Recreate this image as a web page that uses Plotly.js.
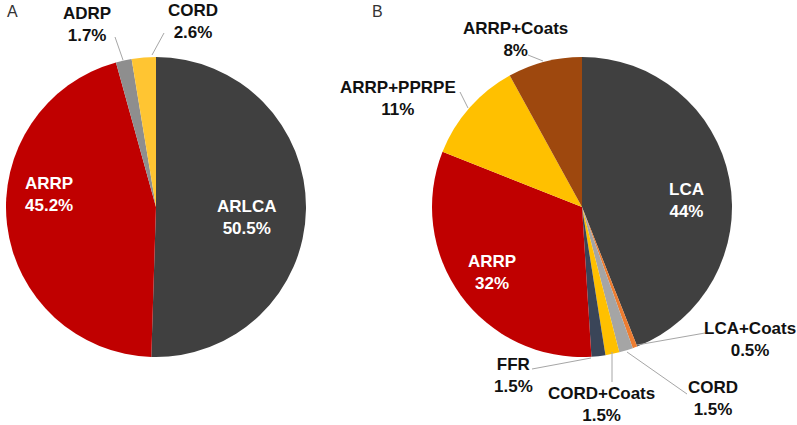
<!DOCTYPE html>
<html>
<head>
<meta charset="utf-8">
<script src="https://cdn.plot.ly/plotly-3.0.1.min.js"></script>
<style>
html,body{margin:0;padding:0;background:#fff;}
#chart{width:797px;height:425px;}
</style>
</head>
<body>
<div id="chart"></div>
<script>
// ---- Data ----
const labelsA = ["ARLCA", "ARRP", "ADRP", "CORD"];
const valuesA = [50.5, 45.2, 1.7, 2.6];
const colorsA = ["#404040", "#C00000", "#8E8E8E", "#FFC532"];

const labelsB = ["LCA", "LCA+Coats", "CORD", "CORD+Coats", "FFR", "ARRP", "ARRP+PPRPE", "ARRP+Coats"];
const valuesB = [44, 0.5, 1.5, 1.5, 1.5, 32, 11, 8];
const colorsB = ["#404040", "#ED7D31", "#A5A5A5", "#FFC000", "#3A4558", "#C00000", "#FFC000", "#9E480E"];

const panelTitles = ["A", "B"];

// ---- Label placement (pixel centres) ----
const W = 797, H = 425;
const posA = [[247, 217, true], [49, 194, true], [87, 24, false], [193, 22, false]];
const posB = [[686, 200, true], [750, 339, false], [713, 398, false], [601, 404, false],
              [513, 375, false], [492, 272, true], [398, 98, false], [515, 39, false]];
const leadersA = [null, null, [115, 37, 123, 60], [164, 33, 152, 55]];
const leadersB = [null, [705, 333, 637, 345], [687, 394, 627, 352], [612, 382, 612, 352],
                  [532, 369, 591, 358], null, [460, 92, 468, 108], [528, 55, 543, 61]];

const px = x => x / W;
const py = y => 1 - y / H;

const traces = [
  {type: "pie", labels: labelsA, values: valuesA, sort: false, direction: "clockwise",
   rotation: 0, textinfo: "none", hoverinfo: "label+value",
   marker: {colors: colorsA, line: {width: 0}},
   domain: {x: [px(6), px(306)], y: [py(357), py(57)]}, showlegend: false},
  {type: "pie", labels: labelsB, values: valuesB, sort: false, direction: "clockwise",
   rotation: 0, textinfo: "none", hoverinfo: "label+value",
   marker: {colors: colorsB, line: {width: 0}},
   domain: {x: [px(432), px(732)], y: [py(357), py(57)]}, showlegend: false}
];

const annotations = [];
const shapes = [];
function addLabels(labels, values, pos, leaders) {
  labels.forEach((lab, i) => {
    const p = pos[i];
    annotations.push({
      xref: "paper", yref: "paper", x: px(p[0]), y: py(p[1]),
      xanchor: "center", yanchor: "middle", showarrow: false,
      text: "<b>" + lab + "<br>" + values[i] + "%</b>",
      font: {family: "Liberation Sans, Arial, sans-serif", size: 17, color: p[2] ? "#FFFFFF" : "#111111"}
    });
    const l = leaders[i];
    if (l) {
      shapes.push({type: "line", xref: "paper", yref: "paper",
        x0: px(l[0]), y0: py(l[1]), x1: px(l[2]), y1: py(l[3]),
        line: {color: "#A6A6A6", width: 1}});
    }
  });
}
addLabels(labelsA, valuesA, posA, leadersA);
addLabels(labelsB, valuesB, posB, leadersB);

annotations.push({xref: "paper", yref: "paper", x: px(12), y: py(12), xanchor: "center", yanchor: "middle",
  showarrow: false, text: panelTitles[0], font: {family: "Liberation Sans, Arial, sans-serif", size: 16, color: "#333333"}});
annotations.push({xref: "paper", yref: "paper", x: px(377), y: py(12), xanchor: "center", yanchor: "middle",
  showarrow: false, text: panelTitles[1], font: {family: "Liberation Sans, Arial, sans-serif", size: 16, color: "#333333"}});

const layout = {
  width: W, height: H,
  margin: {l: 0, r: 0, t: 0, b: 0},
  paper_bgcolor: "#FFFFFF", plot_bgcolor: "#FFFFFF",
  showlegend: false,
  annotations: annotations,
  shapes: shapes
};

Plotly.newPlot("chart", traces, layout, {staticPlot: true, displayModeBar: false});
</script>
</body>
</html>
